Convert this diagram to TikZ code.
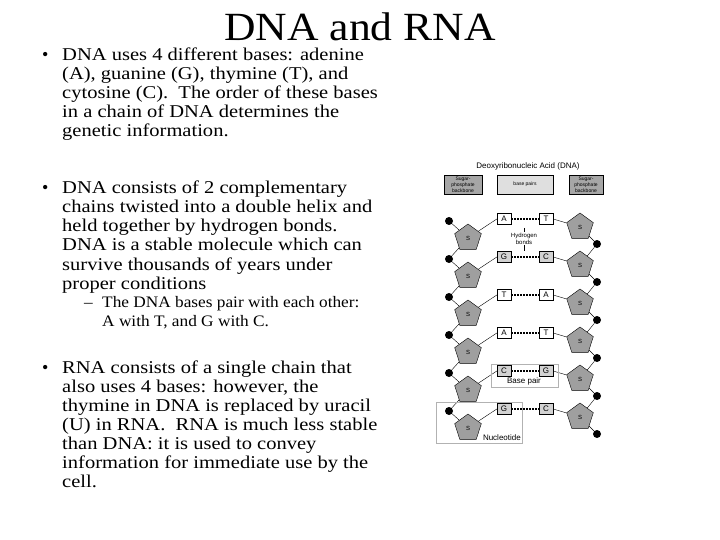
\documentclass[tikz,border=0pt]{standalone}
\usepackage{fontspec}
\setmainfont{Liberation Serif}
\newfontfamily\hv{Liberation Sans}
\usetikzlibrary{shapes.geometric}
\begin{document}
\begin{tikzpicture}[x=1pt,y=-1pt,
  ln/.style={anchor=base west,inner sep=0,xscale=1.14,font=\fontsize{18}{19}\selectfont},
  sl/.style={anchor=base west,inner sep=0,xscale=1.08,font=\fontsize{16}{17}\selectfont},
  bul/.style={anchor=base west,inner sep=0,font=\fontsize{18}{19}\selectfont},
  sug/.style={regular polygon,regular polygon sides=5,draw=black,fill=gray!75,minimum size=28pt,inner sep=0,font=\hv\fontsize{6}{6}\selectfont},
  pho/.style={circle,fill=black,minimum size=8pt,inner sep=0},
  wb/.style={draw=black,fill=white,minimum width=14pt,minimum height=11pt,inner sep=0,font=\hv\fontsize{8}{8}\selectfont},
  gb/.style={wb,fill=gray!35},
  hb/.style={densely dotted,line width=2pt},
  lab/.style={font=\hv\fontsize{5}{6}\selectfont,align=center,inner sep=0}]
\useasboundingbox (0,0) rectangle (720,540);
\node[inner sep=0,xscale=1.09,font=\fontsize{40}{44}\selectfont] (title) at (360,27) {DNA and RNA};
% bullet 1
\node[bul] (b1) at (42,61) {\textbullet};
\node[ln] (l1) at (62,61) {DNA uses 4 different bases: adenine};
\node[ln] (l2) at (62,80) {(A), guanine (G), thymine (T), and};
\node[ln] (l3) at (62,99) {cytosine (C).\ \ The order of these bases};
\node[ln] (l4) at (62,118) {in a chain of DNA determines the};
\node[ln] (l5) at (62,137) {genetic information.};
\node[bul] (b2) at (42,194) {\textbullet};
\node[ln] (m1) at (62,194) {DNA consists of 2 complementary};
\node[ln] (m2) at (62,213) {chains twisted into a double helix and};
\node[ln] (m3) at (62,232) {held together by hydrogen bonds.};
\node[ln] (m4) at (62,251) {DNA is a stable molecule which can};
\node[ln] (m5) at (62,270) {survive thousands of years under};
\node[ln] (m6) at (62,289) {proper conditions};
\node[sl] (d1) at (84,307) {--};
\node[sl] (s1) at (102,307) {The DNA bases pair with each other:};
\node[sl] (s2) at (102,326) {A with T, and G with C.};
\node[bul] (b3) at (42,373) {\textbullet};
\node[ln] (r1) at (62,373) {RNA consists of a single chain that};
\node[ln] (r2) at (62,392) {also uses 4 bases: however, the};
\node[ln] (r3) at (62,411) {thymine in DNA is replaced by uracil};
\node[ln] (r4) at (62,430) {(U) in RNA.\ \ RNA is much less stable};
\node[ln] (r5) at (62,449) {than DNA: it is used to convey};
\node[ln] (r6) at (62,468) {information for immediate use by the};
\node[ln] (r7) at (62,487) {cell.};
% DNA figure
\node[font=\hv\fontsize{8}{8}\selectfont,inner sep=0] (dt) at (528,166) {Deoxyribonucleic Acid (DNA)};
\node[draw=black,fill=gray!70,minimum width=38pt,minimum height=19pt,lab] (h1) at (463,184.5) {Sugar-\\phosphate\\backbone};
\node[draw=black,fill=gray!25,minimum width=56pt,minimum height=19pt,lab] (h2) at (525,184.5) {base pairs};
\node[draw=black,fill=gray!70,minimum width=34pt,minimum height=19pt,lab] (h3) at (586,184.5) {Sugar-\\phosphate\\backbone};
\foreach \i/\y/\L/\R/\st in {1/219/A/T/wb,2/257/G/C/gb,3/295/T/A/wb,4/333/A/T/wb,5/371/C/G/gb,6/409/G/C/gb}{
  \node[pho] (lp\i) at (449,\y+2) {};
  \node[sug] (ls\i) at (468,\y+19) {S};
  \node[\st] (lb\i) at (504,\y) {\L};
  \node[\st] (rb\i) at (546,\y) {\R};
  \node[sug] (rs\i) at (580,\y+8) {S};
  \node[pho] (rp\i) at (597,\y+25) {};
  \draw (lp\i) -- (ls\i);
  \draw (ls\i) -- (lb\i.west);
  \draw (rb\i.east) -- (rs\i);
  \draw (rs\i) -- (rp\i);
  \draw[hb] (lb\i.east) -- (rb\i.west);
}
\foreach \i/\j in {1/2,2/3,3/4,4/5,5/6}{
  \draw (ls\i) -- (lp\j);
  \draw (rp\i) -- (rs\j);
}
\draw[line width=0.8pt] (524,228) -- (524,232);
\node[lab,font=\hv\fontsize{6}{7}\selectfont] (hy) at (524,239) {Hydrogen\\bonds};
\draw[line width=0.8pt] (hy.south) -- (524,251);
\draw[gray!60,line width=0.8pt] (491,364) rectangle (558,387);
\node[font=\hv\fontsize{8}{8}\selectfont,inner sep=0] (bp) at (524,381) {Base pair};
\draw[gray!60,line width=0.8pt] (436,402) rectangle (522,443);
\node[font=\hv\fontsize{8}{8}\selectfont,inner sep=0,anchor=south east] (nu) at (521,441) {Nucleotide};
\end{tikzpicture}
\end{document}
